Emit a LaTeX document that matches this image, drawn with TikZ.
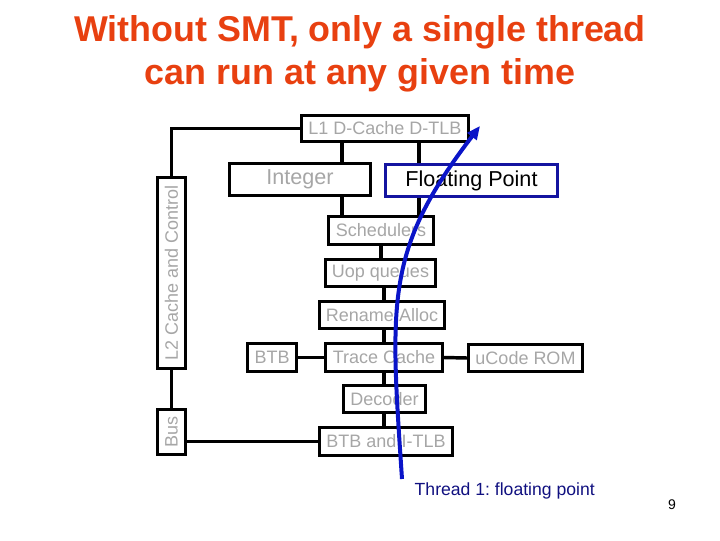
\documentclass[tikz,border=0pt]{standalone}
\usepackage{fontspec}
\setmainfont{Liberation Sans}
\usetikzlibrary{positioning,arrows.meta,calc}

\definecolor{titleorange}{RGB}{232,64,16}
\definecolor{lblgray}{RGB}{166,166,166}
\definecolor{fpnavy}{RGB}{20,20,160}
\definecolor{threadblue}{RGB}{10,20,200}
\definecolor{threadtext}{RGB}{16,16,128}

\frenchspacing
\begin{document}
\begin{tikzpicture}[
    x=0.75pt, y=-0.75pt,
    unit/.style={draw, black, line width=2.6pt, inner sep=0pt,
                 text=lblgray, font=\fontsize{13.5}{16}\selectfont},
    bigunit/.style={unit, font=\fontsize{16.2}{19}\selectfont},
    link/.style={black, line width=2.6pt},
    thread/.style={-{Triangle[length=10pt,width=8.5pt]}, threadblue, line width=3pt},
    ttl/.style={font=\fontsize{26.9}{32}\selectfont\bfseries, text=titleorange},
  ]
  \useasboundingbox (0,0) rectangle (720,540);

  % ============================== Title ===================================
  \node[ttl, anchor=base] (ttl1) at (360,41) {Without SMT, only a single thread};
  \node[ttl, anchor=base] (ttl2) at (360,84) {can run at any given time};

  % ============================== Units ===================================
  \node[unit, minimum width=125pt, minimum height=19.2pt] (l1) at (385,128.5) {L1 D-Cache D-TLB};
  \node[bigunit, minimum width=105.4pt, minimum height=23.7pt] (int) at (300,179.5) {Integer};
  \node[bigunit, draw=fpnavy, text=black, minimum width=128.7pt, minimum height=23.7pt]
    (fp) at (471.5,180.5) {Floating Point};
  \node[unit, minimum width=78.4pt, minimum height=20.7pt] (sched) at (381,230.5) {Schedulers};
  \node[unit, minimum width=82.2pt, minimum height=19.9pt] (uop) at (380.5,273) {Uop queues};
  \node[unit, minimum width=93.4pt, minimum height=19.9pt] (ren) at (382,315) {Rename/Alloc};
  \node[unit, minimum width=87.4pt, minimum height=20.7pt] (trace) at (384,357.5) {Trace Cache};
  \node[unit, minimum width=36.4pt, minimum height=20.7pt] (btb) at (272,357.5) {BTB};
  \node[unit, minimum width=85.2pt, minimum height=19.9pt] (ucode) at (525.5,358) {uCode ROM};
  \node[unit, minimum width=61.2pt, minimum height=19.9pt] (dec) at (384.5,399) {Decoder};
  \node[unit, minimum width=99.4pt, minimum height=20.7pt] (btbi) at (386,441.5) {BTB and I-TLB};

  % side units, text reads upwards
  \node[unit, rotate=90, minimum width=142.9pt, minimum height=20.7pt] (l2) at (171.5,273) {L2 Cache and Control};
  \node[unit, rotate=90, minimum width=33.4pt, minimum height=20.7pt] (bus) at (171.5,432) {Bus};

  % ============================== Wiring ==================================
  \coordinate (lx) at (342,0);
  \coordinate (rx) at (419,0);
  \coordinate (spine) at (384,0);

  \draw[link] (l1.west) -| (l2.east);
  \draw[link] (l2.west) -- (bus.east);
  \draw[link] (btbi.west -| bus.south) -- (btbi.west);

  \draw[link] (l1.south -| lx) -- (int.north -| lx);
  \draw[link] (l1.south -| rx) -- (fp.north -| rx);
  \draw[link] (int.south -| lx) -- (sched.north -| lx);
  \draw[link] (fp.south -| rx) -- (sched.north -| rx);
  \draw[link] (sched.south) -- (sched.south |- uop.north);

  \foreach \a/\b in {uop/ren, ren/trace, trace/dec, dec/btbi} {
    \draw[link] (\a.south -| spine) -- (\b.north -| spine);
  }
  \draw[link] (btb.east) -- (trace.west);
  \draw[link] (trace.east) -- (ucode.west);

  % ============================== Thread path =============================
  \coordinate (tstart) at (402,479);
  \coordinate (tend) at (480,126);
  \draw[thread] (tstart) .. controls (390,300) and (385,250) .. (tend);
  \node[anchor=base west, text=threadtext, font=\fontsize{13.2}{16}\selectfont]
    (tlbl) at (410,495) {Thread 1: floating point};

  \node[font=\fontsize{10.5}{12}\selectfont] (pg) at (672,505) {9};
\end{tikzpicture}
\end{document}
